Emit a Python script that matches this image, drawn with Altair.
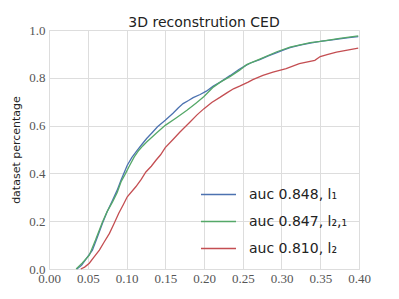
import altair as alt
import pandas as pd

blue_x = [0.036,0.042,0.047,0.056,0.062,0.069,0.075,0.082,0.088,0.093,0.101,0.107,0.114,0.120,0.126,0.133,0.140,0.150,0.160,0.167,0.173,0.180,0.186,0.195,0.203,0.212,0.221,0.234,0.245,0.253,0.260,0.272,0.283,0.294,0.303,0.311,0.324,0.337,0.350,0.363,0.375,0.387,0.399]
blue_y = [0.0,0.015,0.038,0.079,0.13,0.191,0.24,0.288,0.33,0.372,0.434,0.467,0.497,0.522,0.546,0.57,0.595,0.622,0.652,0.675,0.692,0.705,0.717,0.73,0.744,0.765,0.782,0.81,0.835,0.85,0.862,0.876,0.892,0.905,0.917,0.926,0.937,0.945,0.952,0.958,0.963,0.968,0.972]

green_x = [0.035,0.043,0.052,0.060,0.069,0.075,0.082,0.088,0.093,0.098,0.103,0.110,0.116,0.121,0.126,0.138,0.150,0.164,0.178,0.190,0.200,0.212,0.221,0.234,0.246,0.255,0.272,0.294,0.311,0.324,0.337,0.350,0.363,0.375,0.387,0.399]
green_y = [0.0,0.025,0.058,0.121,0.197,0.24,0.281,0.32,0.365,0.395,0.427,0.469,0.497,0.515,0.531,0.567,0.601,0.632,0.664,0.695,0.722,0.761,0.782,0.806,0.832,0.855,0.878,0.909,0.928,0.938,0.947,0.952,0.959,0.965,0.970,0.975]

red_x = [0.041,0.046,0.052,0.058,0.065,0.071,0.078,0.084,0.090,0.096,0.101,0.112,0.119,0.125,0.132,0.138,0.144,0.150,0.160,0.169,0.182,0.191,0.200,0.210,0.221,0.230,0.238,0.246,0.257,0.263,0.276,0.289,0.306,0.323,0.343,0.350,0.360,0.371,0.385,0.399]
red_y = [0.0,0.008,0.024,0.05,0.079,0.112,0.149,0.19,0.233,0.27,0.302,0.344,0.375,0.406,0.43,0.455,0.478,0.508,0.542,0.573,0.615,0.645,0.671,0.697,0.719,0.738,0.754,0.765,0.782,0.792,0.81,0.824,0.838,0.859,0.873,0.889,0.898,0.907,0.916,0.924]

series_names = ["auc 0.848, l\u2081", "auc 0.847, l\u2082,\u2081", "auc 0.810, l\u2082"]
series_colors = ["#4c72b0", "#55a868", "#c44e52"]
x_ticks = [0.0, 0.05, 0.10, 0.15, 0.20, 0.25, 0.30, 0.35, 0.40]
y_ticks = [0.0, 0.2, 0.4, 0.6, 0.8, 1.0]

rows = []
for name, xs, ys in zip(series_names, [blue_x, green_x, red_x], [blue_y, green_y, red_y]):
    for i, (a, b) in enumerate(zip(xs, ys)):
        rows.append({"series": name, "x": a, "y": b, "order": i})
df = pd.DataFrame(rows)

chart = alt.Chart(df).mark_line(strokeWidth=1.3).encode(
    x=alt.X("x:Q", scale=alt.Scale(domain=[0, 0.4], nice=False),
            axis=alt.Axis(values=x_ticks, format=".2f", title="normalized mesh distance",
                          grid=True, ticks=False, domain=False, labelPadding=3,
                          labelFlush=False, labelOverlap=False,
                          labelFont="Liberation Serif", labelFontSize=13, labelColor="#555555",
                          titleFont="DejaVu Sans", titleFontSize=11, titleFontWeight="normal",
                          titleColor="#222222", titlePadding=3)),
    y=alt.Y("y:Q", scale=alt.Scale(domain=[0, 1], nice=False),
            axis=alt.Axis(values=y_ticks, format=".1f", title="dataset percentage",
                          grid=True, ticks=False, domain=False, labelPadding=4,
                          labelFlush=False, labelOverlap=False,
                          labelFont="Liberation Serif", labelFontSize=13, labelColor="#555555",
                          titleFont="DejaVu Sans", titleFontSize=11, titleFontWeight="normal",
                          titleColor="#222222", titlePadding=7)),
    color=alt.Color("series:N", sort=series_names,
                    scale=alt.Scale(domain=series_names, range=series_colors),
                    legend=alt.Legend(title=None, orient="none", legendX=151, legendY=146,
                                      symbolType="stroke", symbolSize=1225, symbolStrokeWidth=1.6,
                                      labelFont="DejaVu Sans", labelFontSize=14, labelColor="#222222",
                                      rowPadding=1, labelOffset=12)),
    order="order:Q",
).properties(
    width=310, height=239,
    title=alt.TitleParams("3D reconstrution CED", font="DejaVu Sans", fontSize=14,
                          fontWeight="normal", color="#222222", offset=-6),
    autosize=alt.AutoSizeParams(type="none"),
    padding={"left": 41, "top": 22, "right": 30, "bottom": 20},
).configure_view(
    stroke="#d0d0d0", strokeWidth=1
).configure_axis(
    gridColor="#dcdcdc", gridWidth=1
).configure(background="white")

chart.save("out.html", embed_options={"renderer": "svg", "actions": False})
